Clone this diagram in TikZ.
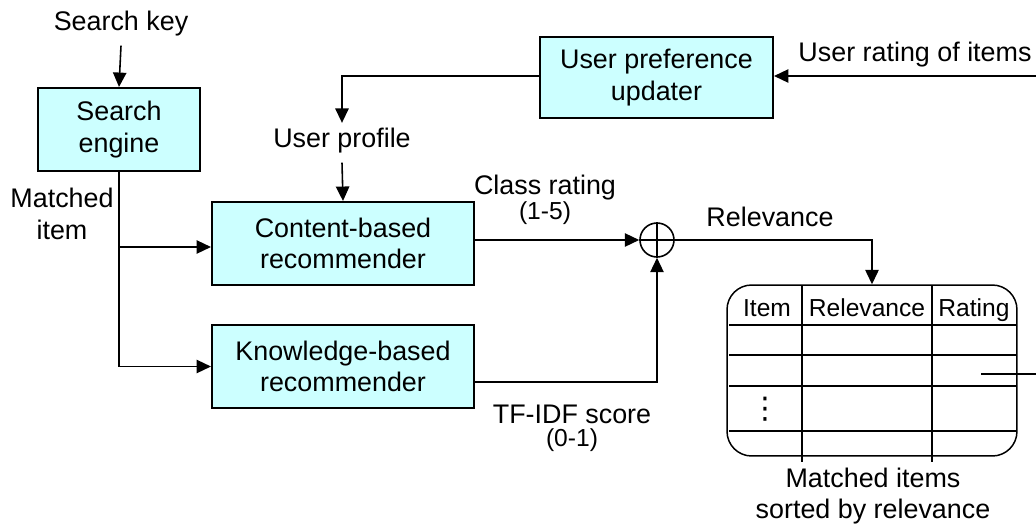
\documentclass[tikz,border=0pt]{standalone}
\usepackage{fontspec}
\setmainfont{Liberation Sans}
\newfontfamily\djv{DejaVu Sans}
\usetikzlibrary{arrows.meta}
\definecolor{boxfill}{RGB}{204,255,255}
\tikzset{
  blk/.style={draw, line width=1.2pt, fill=boxfill, align=center, inner sep=0pt,
    font=\fontsize{15.3}{18}\selectfont},
  lbl/.style={align=center, inner sep=1pt, font=\fontsize{15.3}{18}\selectfont},
  sml/.style={inner sep=1pt, font=\fontsize{14}{17}\selectfont},
  hdr/.style={inner sep=0pt, anchor=base, font=\fontsize{14}{17}\selectfont},
  conn/.style={line width=0.9pt, -{Triangle[length=8.2pt,width=7.6pt]}},
  plain/.style={line width=0.9pt},
  tline/.style={line width=0.85pt}
}
\begin{document}
\begin{tikzpicture}[x=0.02cm, y=-0.02cm]
\useasboundingbox (0,0) rectangle (1036,525);

% nodes
\node[lbl] (sk) at (121,24) {Search key};
\node[blk, minimum width=3.24cm, minimum height=1.66cm] (se) at (119,129.5) {Search\\engine};
\node[lbl] (mi) at (62,214) {Matched\\item};
\node[blk, minimum width=5.24cm, minimum height=1.66cm] (cb) at (343,243.5) {Content-based\\recommender};
\node[blk, minimum width=5.24cm, minimum height=1.66cm] (kb) at (343,366.5) {Knowledge-based\\recommender};
\node[blk, minimum width=4.66cm, minimum height=1.62cm] (up) at (656.5,77.5) {User preference\\updater};
\node[lbl] (ur) at (915,55) {User rating of items};
\node[lbl] (prof) at (342,141) {User profile};
\node[lbl] (cr) at (545,188) {Class rating};
\node[sml] (cr2) at (545,213) {(1-5)};
\node[lbl] (tf) at (572,414) {TF-IDF score};
\node[sml] (tf2) at (572,440) {(0-1)};
\node[lbl] (rel) at (770,217) {Relevance};
\node[draw, circle, line width=0.9pt, minimum size=0.68cm, inner sep=0pt] (circ) at (657,240) {};
\draw[plain] (circ.north) -- (circ.south) (circ.west) -- (circ.east);

% table
\node[draw, line width=0.85pt, rounded corners=14pt, minimum width=5.8cm, minimum height=3.42cm, inner sep=0pt] (tbl) at (872,370.5) {};
\draw[tline] (802,285) -- (802,462) (932,285) -- (932,462);
\foreach \yy in {325,355,386,431} \draw[tline] (729,\yy) -- (1016,\yy);
\node[hdr] (h1) at (767,316) {Item};
\node[hdr] (h2) at (867,316) {Relevance};
\node[hdr] (h3) at (974,316) {Rating};
\node[inner sep=0pt, font=\djv\fontsize{17}{17}\selectfont] (dots) at (765,409) {⋮};
\node[lbl] (mis) at (873,496) {Matched items\\sorted by relevance};

% connectors
\coordinate (rin) at (1036,76);
\coordinate (rout) at (1036,374);
\coordinate (tcell) at (981,374);
\draw[conn] ([yshift=-4pt]sk.south) -- (se.north);
\draw[conn] (se.south) |- (kb.west);
\draw[conn] (se.south |- 0,247) -- (cb.west |- 0,247);
\draw[conn] (up.west |- 0,76) -| ([yshift=2pt]prof.north);
\draw[conn] ([yshift=-4pt]prof.south) -- (cb.north);
\draw[conn] (cb.east |- circ.west) -- (circ.west);
\draw[conn] ([yshift=-0.31cm]kb.east) -| (circ.south);
\draw[conn] (circ.east) -| (tbl.north);
\draw[conn] (rin) -- (up.east |- rin);
\draw[plain] (tcell) -- (rout);
\end{tikzpicture}
\end{document}
